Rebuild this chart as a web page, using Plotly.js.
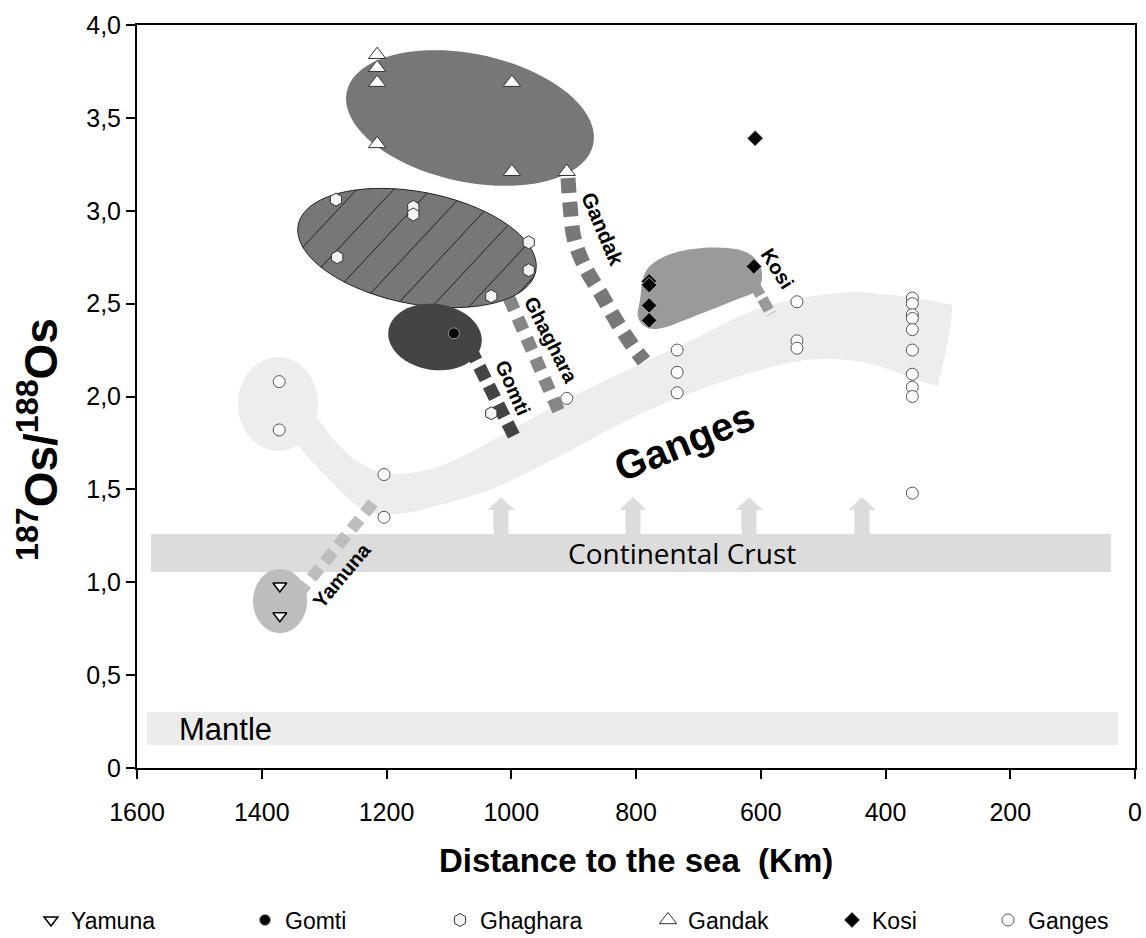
<!DOCTYPE html>
<html><head><meta charset="utf-8">
<script src="https://cdn.plot.ly/plotly-3.0.1.min.js"></script>
<style>html,body{margin:0;padding:0;background:#fff;} #chart{width:1146px;height:938px;}</style>
</head><body><div id="chart"></div>
<script>
// ---------- data (distance to the sea in km, 187Os/188Os) ----------
const yamunaKm = [1371, 1371];
const yamunaOs = [0.98, 0.82];
const gomtiKm = [1092];
const gomtiOs = [2.34];
const ghagharaKm = [1281, 1157, 1157, 1279, 972, 972, 1032, 1032];
const ghagharaOs = [3.06, 3.02, 2.98, 2.75, 2.83, 2.68, 2.54, 1.91];
const gandakKm = [1215, 1215, 1215, 1215, 999, 999, 911];
const gandakOs = [3.84, 3.77, 3.69, 3.36, 3.69, 3.21, 3.21];
const kosiKm = [609, 611, 779, 779, 779, 779];
const kosiOs = [3.39, 2.70, 2.62, 2.60, 2.49, 2.41];
const gangesKm = [1372, 1372, 1204, 1204, 911, 734, 734, 734, 542, 542, 542,
                  357, 357, 357, 357, 357, 357, 357, 357, 357, 357];
const gangesOs = [2.08, 1.82, 1.58, 1.35, 1.99, 2.25, 2.13, 2.02, 2.51, 2.30, 2.26,
                  2.53, 2.50, 2.44, 2.42, 2.36, 2.25, 2.12, 2.05, 2.00, 1.48];
const xTickVals = [1600, 1400, 1200, 1000, 800, 600, 400, 200, 0];
const xTickText = ['1600', '1400', '1200', '1000', '800', '600', '400', '200', '0'];
const yTickVals = [0, 0.5, 1, 1.5, 2, 2.5, 3, 3.5, 4];
const yTickText = ['0', '0,5', '1,0', '1,5', '2,0', '2,5', '3,0', '3,5', '4,0'];

// ---------- geometry helpers for the schematic overlay ----------
const W = 1146, H = 938, ML = 137, MR = 11, MT = 25, MB = 170;
const PW = W - ML - MR, PH = H - MT - MB;
const fx = px => (px - ML) / PW;
const fy = py => (H - MB - py) / PH;
const f = v => v.toFixed(5);
function poly(pts, close) {
  return 'M' + pts.map(p => f(fx(p[0])) + ',' + f(fy(p[1]))).join(' L') + (close ? ' Z' : '');
}
function smooth(pts, closed) {
  const P = pts.map(p => [fx(p[0]), fy(p[1])]);
  const n = P.length;
  let d = 'M' + f(P[0][0]) + ',' + f(P[0][1]);
  const segs = closed ? n : n - 1;
  for (let i = 0; i < segs; i++) {
    const p0 = P[closed ? (i - 1 + n) % n : Math.max(i - 1, 0)];
    const p1 = P[i], p2 = P[(i + 1) % n];
    const p3 = P[closed ? (i + 2) % n : Math.min(i + 2, n - 1)];
    const c1 = [p1[0] + (p2[0] - p0[0]) / 6, p1[1] + (p2[1] - p0[1]) / 6];
    const c2 = [p2[0] - (p3[0] - p1[0]) / 6, p2[1] - (p3[1] - p1[1]) / 6];
    d += ' C' + f(c1[0]) + ',' + f(c1[1]) + ' ' + f(c2[0]) + ',' + f(c2[1]) + ' ' + f(p2[0]) + ',' + f(p2[1]);
  }
  return d + (closed ? ' Z' : '');
}
function ellipse(cx, cy, a, b, deg) {
  const th = deg * Math.PI / 180, pts = [];
  for (let k = 0; k < 90; k++) {
    const t = 2 * Math.PI * k / 90;
    pts.push([cx + a * Math.cos(t) * Math.cos(th) - b * Math.sin(t) * Math.sin(th),
              cy + a * Math.cos(t) * Math.sin(th) + b * Math.sin(t) * Math.cos(th)]);
  }
  return poly(pts, true);
}
function hatch(cx, cy, a, b, deg, lineDeg, spacing) {
  const th = deg * Math.PI / 180, ph = lineDeg * Math.PI / 180;
  const dx = Math.cos(ph), dy = -Math.sin(ph), nx = -dy, ny = dx;
  const c = Math.cos(th), s = Math.sin(th);
  let d = '';
  for (let o = -300; o <= 300; o += spacing) {
    const ox = nx * o, oy = ny * o;
    const lx = ox * c + oy * s, ly = -ox * s + oy * c;
    const ldx = dx * c + dy * s, ldy = -dx * s + dy * c;
    const A = ldx * ldx / (a * a) + ldy * ldy / (b * b);
    const Bq = 2 * (lx * ldx / (a * a) + ly * ldy / (b * b));
    const C = lx * lx / (a * a) + ly * ly / (b * b) - 1;
    const disc = Bq * Bq - 4 * A * C;
    if (disc <= 0) continue;
    const u1 = (-Bq - Math.sqrt(disc)) / (2 * A), u2 = (-Bq + Math.sqrt(disc)) / (2 * A);
    d += ' ' + poly([[cx + ox + dx * u1, cy + oy + dy * u1], [cx + ox + dx * u2, cy + oy + dy * u2]], false);
  }
  return d.trim();
}
function arrow(x) {
  return poly([[x - 7.5, 534], [x - 7.5, 510], [x - 13.5, 510], [x, 497], [x + 13.5, 510], [x + 7.5, 510], [x + 7.5, 534]], true);
}
const shp = (path, fill, line) => Object.assign({type: 'path', xref: 'paper', yref: 'paper', layer: 'below', path: path,
  fillcolor: fill || 'rgba(0,0,0,0)', line: line || {width: 0}});

const shapes = [
  // mantle and crust bands
  shp(poly([[147, 712], [1118, 712], [1118, 745], [147, 745]], true), '#ececec'),
  shp(poly([[151, 534], [1111, 534], [1111, 572], [151, 572]], true), '#dcdcdc'),
  shp(arrow(501), '#dcdcdc'), shp(arrow(633), '#dcdcdc'), shp(arrow(749), '#dcdcdc'), shp(arrow(862), '#dcdcdc'),
  // Ganges band
  shp(ellipse(278, 404, 40, 47, 0), '#ededed'),
  shp(smooth([[300, 405], [314, 414], [336, 442], [362, 464], [392, 474], [440, 466], [497, 438], [560, 403],
              [625, 371], [690, 341], [760, 308], [837, 293], [893, 295], [942, 303], [952, 312], [940, 376],
              [930, 384], [862, 362], [793, 362], [693, 392], [622, 423], [560, 456], [497, 487],
              [440, 505], [397, 514], [362, 509], [330, 480], [298, 446], [285, 430]], true), '#ededed'),
  // river connectors
  shp(smooth([[568, 178], [570, 205], [574, 238], [585, 267], [601, 294], [617, 322], [632, 345], [644, 361]], false), null,
      {color: '#787878', width: 15, dash: '15px,9px'}),
  shp(poly([[509, 298], [559, 412]], false), null, {color: '#868686', width: 13, dash: '13px,9px'}),
  shp(poly([[470, 348], [516, 440]], false), null, {color: '#444444', width: 13, dash: '14px,7px'}),
  shp(poly([[754, 284], [771, 314]], false), null, {color: '#9a9a9a', width: 11, dash: '13px,4px'}),
  shp(poly([[373, 503], [300, 592]], false), null, {color: '#bdbdbd', width: 12, dash: '13px,8px'}),
  // river fields
  shp(ellipse(470, 118, 126, 64, 12), '#777777'),
  shp(ellipse(417, 248, 121, 56, 11), '#777777', {color: '#222', width: 1}),
  shp(hatch(417, 248, 121, 56, 11, 47, 27), null, {color: '#222', width: 1}),
  shp(ellipse(435, 337, 47, 33, 8), '#444444'),
  shp(smooth([[640, 300], [646, 271], [668, 255], [702, 248], [740, 250], [758, 262], [762, 278], [756, 291],
              [738, 299], [700, 314], [666, 327], [648, 328], [638, 317]], true), '#9a9a9a'),
  shp(ellipse(280, 601, 27, 32, 0), '#bdbdbd')
];

const lab = (t, px, py, ang, size, bold, extra) => Object.assign({
  text: bold ? '<b>' + t + '</b>' : t, xref: 'paper', yref: 'paper', x: fx(px), y: fy(py), showarrow: false,
  xanchor: 'center', yanchor: 'middle',
  textangle: ang, font: {family: 'Liberation Sans, Arial, sans-serif', size: size, color: '#000'}}, extra || {});
const annotations = [
  lab('Ganges', 684, 442, -22, 40, true),
  lab('Gandak', 603, 228, 67, 21, true),
  lab('Ghaghara', 551, 340, 63, 20, true),
  lab('Gomti', 513, 388, 66, 20, true),
  lab('Kosi', 777, 268, 58, 20, true),
  lab('Yamuna', 342, 575, -50, 20, true),
  lab('Continental Crust', 682, 553, 0, 28, false, {font: {family: 'Open Sans, sans-serif', size: 28, color: '#000'}}),
  lab('Mantle', 177, 729, 0, 31, false, {xanchor: 'left'}),
  // axis titles (placed as annotations to match the reference's positions)
  lab('<sup>187</sup>Os/<sup>188</sup>Os', 38, 440, -90, 46, true),
  lab('Distance to the sea&nbsp;&nbsp;(Km)', 636, 860, 0, 33, true)
];

const legFont = {family: 'Liberation Sans Narrow, Arial Narrow, Liberation Sans, sans-serif', size: 23, color: '#000'};
const legendAt = px => ({xref: 'container', yref: 'container', x: px / W, y: (H - 920) / H, xanchor: 'left', yanchor: 'middle',
  orientation: 'h', bgcolor: 'rgba(0,0,0,0)', font: legFont});

const traces = [
  {name: 'Yamuna', x: yamunaKm, y: yamunaOs, legend: 'legend',
   marker: {symbol: 'triangle-down', size: 12, color: '#fff', line: {color: '#000', width: 1.5}}},
  {name: 'Gomti', x: gomtiKm, y: gomtiOs, legend: 'legend2',
   marker: {symbol: 'circle', size: 11, color: '#000', line: {color: '#999', width: 1}}},
  {name: 'Ghaghara', x: ghagharaKm, y: ghagharaOs, legend: 'legend3',
   marker: {symbol: 'hexagon', size: 13, color: '#f2f2f2', line: {color: '#333', width: 1}}},
  {name: 'Gandak', x: gandakKm, y: gandakOs, legend: 'legend4',
   marker: {symbol: 'triangle-up', size: 15, color: '#fff', line: {color: '#333', width: 1}}},
  {name: 'Kosi', x: kosiKm, y: kosiOs, legend: 'legend5',
   marker: {symbol: 'diamond', size: 12, color: '#000', line: {color: '#aaa', width: 1}}},
  {name: 'Ganges', x: gangesKm, y: gangesOs, legend: 'legend6',
   marker: {symbol: 'circle', size: 12, color: '#fff', line: {color: '#555', width: 1}}}
].map(t => Object.assign({type: 'scatter', mode: 'markers', showlegend: true}, t));

const axisFont = {family: 'Liberation Sans, Arial, sans-serif', size: 25, color: '#000'};
const layout = {
  width: W, height: H, margin: {l: ML, r: MR, t: MT, b: MB, autoexpand: false},
  paper_bgcolor: '#fff', plot_bgcolor: '#fff', separators: ', ',
  xaxis: {range: [1600, 0], tickmode: 'array', tickvals: xTickVals, ticktext: xTickText,
    ticks: 'outside', ticklen: 9, tickwidth: 2, tickcolor: '#000', showline: true, linecolor: '#000', linewidth: 2,
    mirror: true, showgrid: false, zeroline: false, tickfont: axisFont, automargin: false, ticklabelstandoff: 12},
  yaxis: {range: [0, 4], tickmode: 'array', tickvals: yTickVals, ticktext: yTickText,
    ticks: 'outside', ticklen: 9, tickwidth: 2, tickcolor: '#000', showline: true, linecolor: '#000', linewidth: 2,
    mirror: true, showgrid: false, zeroline: false, tickfont: axisFont, automargin: false},
  shapes: shapes, annotations: annotations,
  legend: legendAt(31), legend2: legendAt(245), legend3: legendAt(440), legend4: legendAt(648),
  legend5: legendAt(832), legend6: legendAt(988)
};
Plotly.newPlot('chart', traces, layout, {displayModeBar: false, staticPlot: true});
</script></body></html>
